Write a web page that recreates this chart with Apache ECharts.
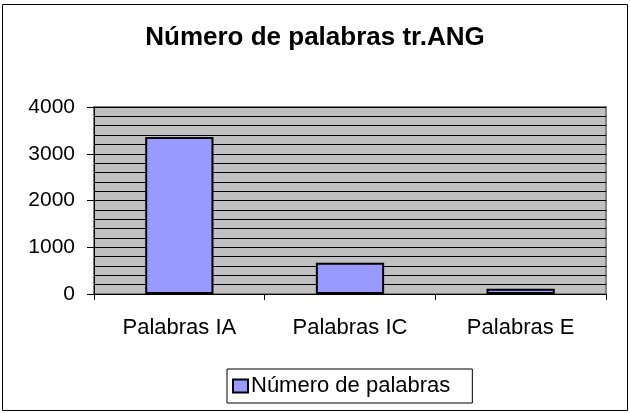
<!DOCTYPE html>
<html>
<head>
<meta charset="utf-8">
<script src="https://cdn.jsdelivr.net/npm/echarts@6/dist/echarts.min.js"></script>
<style>
html,body{margin:0;padding:0;background:#fff;}
#main{width:630px;height:413px;}
</style>
</head>
<body>
<div id="main"></div>
<script>
const titleText = 'Número de palabras tr.ANG';
const categories = ['Palabras IA', 'Palabras IC', 'Palabras E'];
const seriesName = 'Número de palabras';
const values = [3360, 670, 110];
const yTicks = [0, 1000, 2000, 3000, 4000];

const FONT = '"Liberation Sans", Arial, sans-serif';
const chart = echarts.init(document.getElementById('main'), null, {renderer: 'canvas'});
chart.setOption({
  animation: false,
  backgroundColor: '#ffffff',
  title: {
    text: titleText,
    left: 'center',
    top: 20,
    textStyle: {fontFamily: FONT, fontSize: 26, fontWeight: 'bold', color: '#000'}
  },
  graphic: [{
    type: 'rect',
    shape: {x: 2.5, y: 4.5, width: 625, height: 406},
    style: {fill: 'none', stroke: '#000', lineWidth: 1},
    silent: true, z: 100
  }],
  legend: {
    data: [seriesName],
    left: 227,
    top: 369,
    padding: [6, 22, 6, 5],
    borderColor: '#000',
    borderWidth: 1,
    itemWidth: 15,
    itemHeight: 13,
    itemGap: 0,
    icon: 'rect',
    textStyle: {fontFamily: FONT, fontSize: 22, color: '#000', padding: [0, 0, 0, -2]}
  },
  grid: {
    left: 94, right: 24, top: 107, bottom: 119,
    show: true,
    backgroundColor: '#C0C0C0',
    borderColor: '#808080',
    borderWidth: 2
  },
  xAxis: {
    type: 'category',
    data: categories,
    boundaryGap: true,
    axisLine: {show: true, lineStyle: {color: '#000', width: 1}},
    axisTick: {show: true, length: 6, lineStyle: {color: '#000'}},
    axisLabel: {fontFamily: FONT, fontSize: 22, color: '#000', margin: 23},
    splitLine: {show: false}
  },
  yAxis: {
    type: 'value',
    min: yTicks[0],
    max: yTicks[yTicks.length - 1],
    interval: 1000,
    axisLine: {show: true, lineStyle: {color: '#000', width: 1}},
    axisTick: {show: true, length: 7, lineStyle: {color: '#000'}},
    axisLabel: {fontFamily: FONT, fontSize: 21, color: '#000', margin: 19, formatter: v => String(v)},
    splitLine: {show: true, lineStyle: {color: '#000', width: 1}},
    minorTick: {show: false, splitNumber: 5},
    minorSplitLine: {show: true, lineStyle: {color: '#000', width: 1}}
  },
  series: [{
    name: seriesName,
    type: 'bar',
    data: values,
    barWidth: '40%',
    itemStyle: {color: '#9999FF', borderColor: '#000', borderWidth: 2}
  }]
});
</script>
</body>
</html>
